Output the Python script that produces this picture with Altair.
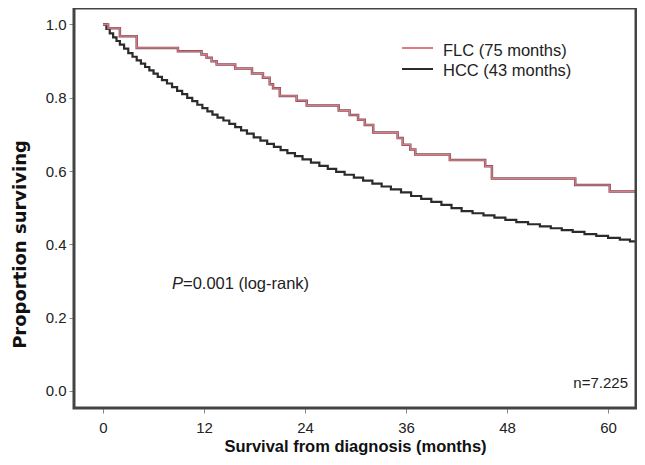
import altair as alt
import pandas as pd

# ---- data (months, proportion surviving) ----
flc_t = [0, 0.6, 2.0, 4.0, 8.9, 11.7, 12.3, 12.9, 13.5, 15.7, 17.7, 19.0, 19.8, 20.2,
         21.0, 23.0, 24.2, 28.0, 29.3, 30.3, 31.1, 32.1, 35.0, 35.6, 36.5, 37.1, 41.2,
         45.4, 46.2, 56.1, 60.2, 63.3]
flc_v = [1.000, 0.990, 0.968, 0.936, 0.927, 0.918, 0.909, 0.900, 0.891, 0.880, 0.866,
         0.855, 0.837, 0.826, 0.805, 0.792, 0.779, 0.765, 0.753, 0.740, 0.726, 0.705,
         0.690, 0.672, 0.659, 0.645, 0.630, 0.613, 0.580, 0.562, 0.544, 0.544]

hcc_t = [0.0, 0.4, 0.8, 1.2, 1.6, 2.0, 2.5, 3.0, 3.5, 4.0, 4.5, 5.0, 5.5, 6.0, 6.5,
         7.0, 7.6, 8.2, 8.8, 9.4, 10.0, 10.6, 11.2, 11.8, 12.4, 13.0, 13.6, 14.3, 15.0,
         15.7, 16.4, 17.1, 17.9, 18.7, 19.5, 20.3, 21.1, 21.9, 22.8, 23.7, 24.7, 25.7,
         26.7, 27.7, 28.7, 29.8, 30.9, 32.0, 33.1, 34.2, 35.4, 36.6, 37.8, 39.0, 40.2,
         41.4, 42.6, 43.9, 45.2, 46.5, 47.8, 49.1, 50.5, 51.9, 53.2, 54.5, 55.8, 57.2,
         58.6, 60.0, 61.4, 62.6, 63.3]
hcc_v = [1.000, 0.988, 0.976, 0.965, 0.955, 0.945, 0.934, 0.922, 0.912, 0.902, 0.893,
         0.884, 0.875, 0.866, 0.857, 0.848, 0.839, 0.829, 0.819, 0.810, 0.800, 0.791,
         0.781, 0.772, 0.763, 0.754, 0.746, 0.738, 0.729, 0.720, 0.711, 0.702, 0.692,
         0.683, 0.674, 0.666, 0.657, 0.649, 0.641, 0.632, 0.623, 0.614, 0.606, 0.598,
         0.590, 0.582, 0.574, 0.566, 0.558, 0.550, 0.542, 0.532, 0.524, 0.516, 0.508,
         0.499, 0.491, 0.485, 0.479, 0.473, 0.467, 0.461, 0.455, 0.449, 0.444, 0.439,
         0.434, 0.428, 0.423, 0.418, 0.413, 0.408, 0.406]

series_names = ["FLC (75 months)", "HCC (43 months)"]
x_ticks = [0, 12, 24, 36, 48, 60]
y_ticks = [0.0, 0.2, 0.4, 0.6, 0.8, 1.0]
p_label = ["P", "=0.001 (log-rank)"]
n_label = "n=7.225"

FLC_COLOR = "#e07a88"
FLC_EDGE = "#7a5056"
HCC_COLOR = "#2b2b2b"
FRAME_COLOR = "#444444"
FONT = "Liberation Sans"
W, H = 562, 400

flc = pd.DataFrame({"t": flc_t, "v": flc_v, "series": series_names[0]})
hcc = pd.DataFrame({"t": hcc_t, "v": hcc_v, "series": series_names[1]})

xscale = alt.Scale(domain=[-3.45, 63.32], nice=False, zero=False)
yscale = alt.Scale(domain=[-0.0464, 1.045], nice=False, zero=False)

xaxis = alt.Axis(values=x_ticks, title="Survival from diagnosis (months)", grid=False,
                 domain=False, tickColor="#888888", tickSize=5, tickWidth=1,
                 labelFont=FONT, labelFontSize=15, labelColor="#222222", labelPadding=7,
                 titleFont=FONT, titleFontSize=16.5, titleFontWeight="bold",
                 titleColor="#111111", titlePadding=3)
yaxis = alt.Axis(values=y_ticks, format=".1f", title="Proportion surviving", grid=False,
                 domain=False, tickColor="#888888", tickSize=5, tickWidth=1,
                 labelFont=FONT, labelFontSize=15, labelColor="#222222", labelPadding=3,
                 titleFont="DejaVu Sans", titleFontSize=18, titleFontWeight="bold",
                 titleColor="#111111", titlePadding=16, titleY=236)

hcc_line = alt.Chart(hcc).mark_line(interpolate="step-after", color=HCC_COLOR,
                                    strokeWidth=2.2, clip=True).encode(
    x=alt.X("t:Q", scale=xscale, axis=xaxis),
    y=alt.Y("v:Q", scale=yscale, axis=yaxis),
)
flc_edge = alt.Chart(flc).mark_line(interpolate="step-after", color=FLC_EDGE,
                                    strokeWidth=2.5, clip=True).encode(
    x=alt.X("t:Q", scale=xscale), y=alt.Y("v:Q", scale=yscale))
flc_line = alt.Chart(flc).mark_line(interpolate="step-after", color=FLC_COLOR,
                                    strokeWidth=1.2, clip=True).encode(
    x=alt.X("t:Q", scale=xscale), y=alt.Y("v:Q", scale=yscale))

# plot frame
frame = alt.Chart().mark_rect(fill="white", fillOpacity=0, stroke=FRAME_COLOR,
                              strokeOpacity=1, strokeWidth=3).encode(
    x=alt.value(0), x2=alt.value(W), y=alt.value(0), y2=alt.value(H))

# legend (drawn manually)
leg_flc_line = alt.Chart().mark_rule(color=FLC_COLOR, strokeWidth=2).encode(
    x=alt.value(328), x2=alt.value(359), y=alt.value(40))
leg_hcc_line = alt.Chart().mark_rule(color=HCC_COLOR, strokeWidth=2).encode(
    x=alt.value(328), x2=alt.value(359), y=alt.value(61))
leg_flc_txt = alt.Chart().mark_text(text=series_names[0], align="left", baseline="middle",
                                    font=FONT, fontSize=16.5, color="#222222").encode(
    x=alt.value(369), y=alt.value(43))
leg_hcc_txt = alt.Chart().mark_text(text=series_names[1], align="left", baseline="middle",
                                    font=FONT, fontSize=16.5, color="#222222").encode(
    x=alt.value(369), y=alt.value(63))

p_txt1 = alt.Chart().mark_text(text=p_label[0], align="left", baseline="middle", font=FONT,
                               fontSize=16.5, fontStyle="italic", color="#222222").encode(
    x=alt.value(98), y=alt.value(276))
p_txt2 = alt.Chart().mark_text(text=p_label[1], align="left", baseline="middle", font=FONT,
                               fontSize=16.5, color="#222222").encode(
    x=alt.value(109), y=alt.value(276))
n_txt = alt.Chart().mark_text(text=n_label, align="right", baseline="middle", font=FONT,
                              fontSize=15, color="#222222").encode(
    x=alt.value(554), y=alt.value(375))

chart = alt.layer(
    hcc_line, flc_edge, flc_line, frame,
    leg_flc_line, leg_hcc_line, leg_flc_txt, leg_hcc_txt,
    p_txt1, p_txt2, n_txt,
).properties(
    width=W, height=H,
    background="white",
    autosize=alt.AutoSizeParams(type="none"),
    padding={"left": 66, "top": 0, "right": 1, "bottom": 49},
).configure_view(
    strokeWidth=0
)

chart.save("out.html", embed_options={"renderer": "svg", "actions": False})
